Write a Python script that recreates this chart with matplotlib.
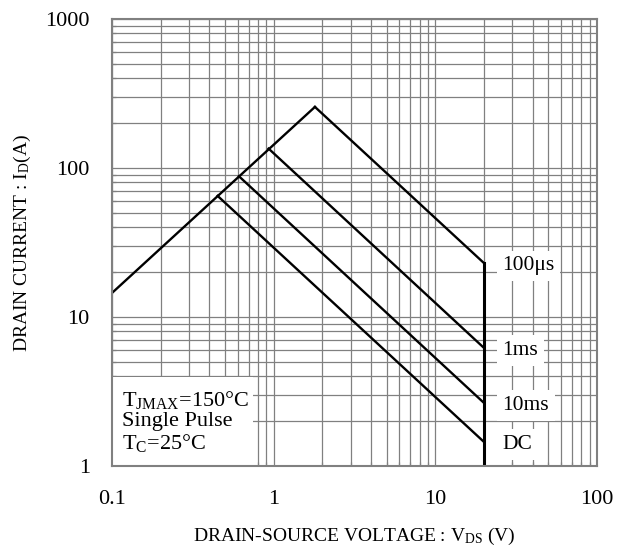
import matplotlib
matplotlib.use("Agg")
import matplotlib.pyplot as plt

plt.rcParams["font.family"] = ["Liberation Serif", "DejaVu Serif"]
plt.rcParams["mathtext.fontset"] = "custom"
plt.rcParams["mathtext.rm"] = "Liberation Serif"
plt.rcParams["mathtext.it"] = "Liberation Serif"

# on-resistance limit line
rds_v = [0.1, 1.8]
rds_i = [14.5, 257]

# pulse limit lines (V, I) and labels
pulse_labels = ["100μs", "1ms", "10ms", "DC"]
pulse_v = [[1.8, 20], [0.93, 20], [0.61, 20], [0.45, 20]]
pulse_i = [[257, 23], [135, 6.2], [88, 2.65], [65, 1.45]]

# vdss limit
vdss = 20
label_v = 26

fig = plt.figure(figsize=(6.24, 5.51), dpi=100)
ax = fig.add_axes([112 / 624, 85 / 551, 485 / 624, 447 / 551])

ax.set_xscale("log")
ax.set_yscale("log")
ax.set_xlim(0.1, 100)
ax.set_ylim(1, 1000)

ax.grid(True, which="both", color="#808080", linewidth=0.9, zorder=0)

ax.plot(rds_v, rds_i, color="black", lw=1.7, zorder=3)
for v, i in zip(pulse_v, pulse_i):
    ax.plot(v, i, color="black", lw=1.7, zorder=3)
ax.plot([vdss, vdss], [pulse_i[0][1], 1], color="black", lw=2.2, zorder=3)

for lab, i in zip(pulse_labels, pulse_i):
    ax.text(label_v, i[1], lab, fontsize=15.5, va="center_baseline", ha="left", zorder=4,
            bbox=dict(facecolor="white", edgecolor="none", pad=4))

# condition box
ax.add_patch(plt.Rectangle((0, 0), 0.29, 0.2, transform=ax.transAxes,
                           facecolor="white", edgecolor="none", zorder=2))
ax.text(0.02, 0.1, "T$_{\\rm JMAX}$=150°C\nSingle Pulse\nT$_{\\rm C}$=25°C",
        transform=ax.transAxes, fontsize=16, va="center", ha="left",
        linespacing=1.05, zorder=4)

ax.set_xticks([0.1, 1, 10, 100])
ax.set_xticklabels(["0.1", "1", "10", "100"])
ax.set_yticks([1, 10, 100, 1000])
ax.set_yticklabels(["1", "10", "100", "1000"])
ax.tick_params(which="both", direction="in", color="#808080", labelsize=16)
ax.tick_params(which="major", length=0, pad=16)
ax.tick_params(axis="x", which="major", pad=17)
ax.tick_params(which="minor", length=3, width=0.9)

for s in ax.spines.values():
    s.set_color("#808080")
    s.set_linewidth(1.5)
    s.set_zorder(5)

ax.set_xlabel("DRAIN-SOURCE VOLTAGE : V$_{\\rm DS}$ (V)", fontsize=14)
ax.set_ylabel("DRAIN CURRENT : I$_{\\rm D}$(A)", fontsize=14)
ax.xaxis.set_label_coords(0.5, -0.134)
ax.yaxis.set_label_coords(-0.163, 0.5)

fig.savefig("out.png", dpi=100)
